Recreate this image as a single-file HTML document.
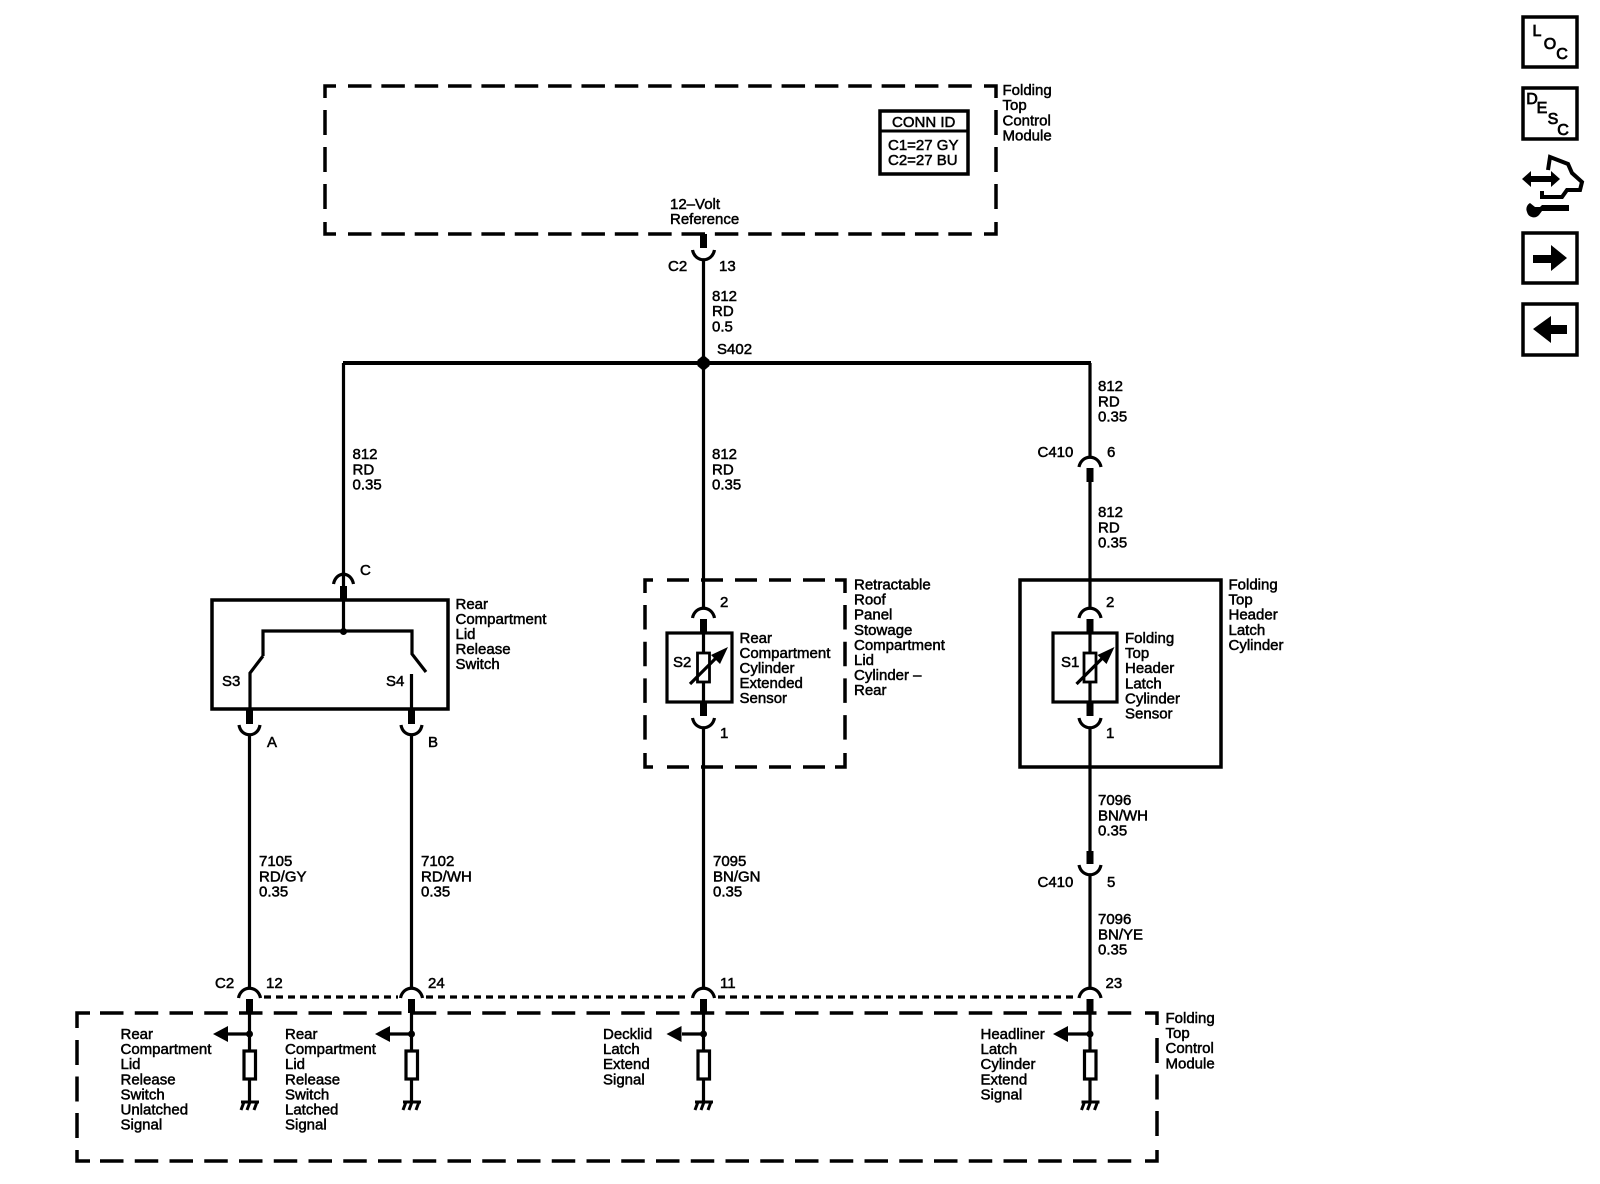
<!DOCTYPE html>
<html><head><meta charset="utf-8"><style>
html,body{margin:0;padding:0;background:#fff}
svg{display:block}
text{font-family:"Liberation Sans",sans-serif;font-size:15px;fill:#000;stroke:#000;stroke-width:.5}
.w{fill:none;stroke:#000;stroke-width:3.2}
.s{fill:none;stroke:#000;stroke-width:7}
.b{fill:none;stroke:#000;stroke-width:3.5}
.i text{font-size:16px;text-anchor:middle;stroke-width:.8}
</style></head><body>
<svg width="1600" height="1184" viewBox="0 0 1600 1184" xmlns="http://www.w3.org/2000/svg">
<rect width="1600" height="1184" fill="#fff"/>
<!-- top module -->
<path class="b" d="M325 98V86H336M984 86H996V98M325 222V234H336M984 234H996V222"/>
<path class="b" d="M348 86H975M348 234H975" stroke-dasharray="23.5 9.85"/>
<path class="b" d="M325 110V210M996 110V210" stroke-dasharray="25 12"/>
<rect class="b" x="880" y="111" width="88" height="63"/>
<path class="b" d="M880 131H968" style="stroke-width:3"/>
<text x="892" y="127">CONN ID</text>
<text x="888" y="150">C1=27 GY</text>
<text x="888" y="165">C2=27 BU</text>
<text x="1002.500" y="95">Folding<tspan x="1002.500" dy="15.200">Top</tspan><tspan x="1002.500" dy="15.200">Control</tspan><tspan x="1002.500" dy="15.200">Module</tspan></text>
<text x="670" y="209">12–Volt<tspan x="670" dy="15.200">Reference</tspan></text>
<!-- top connector and bus -->
<path class="s" d="M703.500 234V248"/>
<path class="w" d="M692.500 250C695 263 712 263 714.500 250M703.500 259V363"/>
<text x="668" y="271">C2</text><text x="719" y="271">13</text>
<text x="712" y="301">812<tspan x="712" dy="15.200">RD</tspan><tspan x="712" dy="15.200">0.5</tspan></text>
<text x="717" y="354">S402</text>
<path d="M343 363H1091" fill="none" stroke="#000" stroke-width="4"/>
<path d="M703.500 355L709.500 360V366L703.500 371L697.500 366V360Z" fill="#000"/>
<!-- left branch -->
<path class="w" d="M343.500 363V586M333.500 584C336 571 351 571 353.500 584"/>
<path class="s" d="M343.500 586V600"/>
<text x="352.500" y="459">812<tspan x="352.500" dy="15.300">RD</tspan><tspan x="352.500" dy="15.300">0.35</tspan></text>
<text x="360" y="575">C</text>
<rect class="b" x="212" y="600" width="236" height="109"/>
<path class="w" d="M343.500 600V631M263 656V631H412V654L426 672M263 656L250 673V711M411.500 674V711"/>
<circle cx="343.500" cy="631.500" r="3.500"/>
<text x="222" y="686">S3</text><text x="386" y="686">S4</text>
<text x="455.500" y="609">Rear<tspan x="455.500" dy="15">Compartment</tspan><tspan x="455.500" dy="15">Lid</tspan><tspan x="455.500" dy="15">Release</tspan><tspan x="455.500" dy="15">Switch</tspan></text>
<path class="s" d="M249.500 709V724M411.500 709V724"/>
<path class="w" d="M239 725C241 738 258 738 260 725M249.500 734V988M401 725C403 738 420 738 422 725M411.500 734V988"/>
<text x="267" y="747">A</text><text x="428" y="747">B</text>
<text x="259" y="866">7105<tspan x="259" dy="15.300">RD/GY</tspan><tspan x="259" dy="15.300">0.35</tspan></text>
<text x="421" y="866">7102<tspan x="421" dy="15.300">RD/WH</tspan><tspan x="421" dy="15.300">0.35</tspan></text>
<!-- middle branch -->
<path class="w" d="M703.500 363V608M692.500 618C695 605 712 605 714.500 618"/>
<text x="712" y="459">812<tspan x="712" dy="15.300">RD</tspan><tspan x="712" dy="15.300">0.35</tspan></text>
<path class="b" d="M645 593V580H653M835 580H845V593M645 753V767H653M835 767H845V753"/>
<path class="b" d="M667 580H825M667 767H825" stroke-dasharray="22 12"/>
<path class="b" d="M645 605V741M845 605V741" stroke-dasharray="24.500 12.200"/>
<path class="s" d="M703.500 619V633M703.500 702V716"/>
<rect x="667" y="633" width="65" height="69" fill="none" stroke="#000" stroke-width="3.200"/>
<path class="w" d="M703.500 633V653M703.500 682V702M692.500 718C695 731 712 731 714.500 718M703.500 728V988"/>
<rect x="697.500" y="653" width="12" height="29" fill="none" stroke="#000" stroke-width="2.800"/>
<path class="w" d="M690 684L720 654"/><path d="M728 647L711 655L720 664Z" fill="#000"/>
<text x="673" y="667">S2</text>
<text x="720" y="607">2</text><text x="720" y="738">1</text>
<text x="739.500" y="643">Rear<tspan x="739.500" dy="15">Compartment</tspan><tspan x="739.500" dy="15">Cylinder</tspan><tspan x="739.500" dy="15">Extended</tspan><tspan x="739.500" dy="15">Sensor</tspan></text>
<text x="854" y="589.500">Retractable<tspan x="854" dy="15.100">Roof</tspan><tspan x="854" dy="15.100">Panel</tspan><tspan x="854" dy="15.100">Stowage</tspan><tspan x="854" dy="15.100">Compartment</tspan><tspan x="854" dy="15.100">Lid</tspan><tspan x="854" dy="15.100">Cylinder –</tspan><tspan x="854" dy="15.100">Rear</tspan></text>
<text x="713" y="866">7095<tspan x="713" dy="15.300">BN/GN</tspan><tspan x="713" dy="15.300">0.35</tspan></text>
<!-- right branch -->
<path class="w" d="M1090 363V457M1079 467C1081.500 454 1098.500 454 1101 467"/>
<text x="1098" y="391">812<tspan x="1098" dy="15.300">RD</tspan><tspan x="1098" dy="15.300">0.35</tspan></text>
<text x="1037.500" y="457">C410</text><text x="1107" y="457">6</text>
<path class="s" d="M1090 468V482"/>
<path class="w" d="M1090 482V608M1079 618C1081.500 605 1098.500 605 1101 618"/>
<text x="1098" y="517">812<tspan x="1098" dy="15.300">RD</tspan><tspan x="1098" dy="15.300">0.35</tspan></text>
<rect class="b" x="1020" y="580" width="201" height="187"/>
<path class="s" d="M1090 619V633M1090 702V716"/>
<rect x="1053" y="633" width="64" height="69" fill="none" stroke="#000" stroke-width="3.200"/>
<path class="w" d="M1090 633V653M1090 682V702M1079 718C1081.500 731 1098.500 731 1101 718M1090 728V851"/>
<rect x="1084" y="653" width="12" height="29" fill="none" stroke="#000" stroke-width="2.800"/>
<path class="w" d="M1076.500 684L1106.500 654"/><path d="M1114.500 647L1097.500 655L1106.500 664Z" fill="#000"/>
<text x="1061" y="667">S1</text>
<text x="1106" y="607">2</text><text x="1106" y="738">1</text>
<text x="1125" y="643">Folding<tspan x="1125" dy="15.100">Top</tspan><tspan x="1125" dy="15.100">Header</tspan><tspan x="1125" dy="15.100">Latch</tspan><tspan x="1125" dy="15.100">Cylinder</tspan><tspan x="1125" dy="15.100">Sensor</tspan></text>
<text x="1228.500" y="589.500">Folding<tspan x="1228.500" dy="15.100">Top</tspan><tspan x="1228.500" dy="15.100">Header</tspan><tspan x="1228.500" dy="15.100">Latch</tspan><tspan x="1228.500" dy="15.100">Cylinder</tspan></text>
<text x="1098" y="805">7096<tspan x="1098" dy="15.300">BN/WH</tspan><tspan x="1098" dy="15.300">0.35</tspan></text>
<path class="s" d="M1090 851V864"/>
<path class="w" d="M1079 865C1081.500 878 1098.500 878 1101 865M1090 875V988"/>
<text x="1037.500" y="887">C410</text><text x="1107" y="887">5</text>
<text x="1098" y="924">7096<tspan x="1098" dy="15.300">BN/YE</tspan><tspan x="1098" dy="15.300">0.35</tspan></text>
<!-- bottom connectors -->
<text x="215" y="988">C2</text><text x="266" y="988">12</text><text x="428" y="988">24</text><text x="720" y="988">11</text><text x="1105.500" y="988">23</text>
<path class="w" d="M238.500 998C241 985 258 985 260.500 998M400.500 998C403 985 420 985 422.500 998M692.500 998C695 985 712 985 714.500 998M1079 998C1081.500 985 1098.500 985 1101 998"/>
<path class="w" d="M264 997H398M426 997H690M718 997H1076" stroke-dasharray="7 5"/>
<path class="s" d="M249.500 999V1013M411.500 999V1013M703.500 999V1013M1090 999V1013"/>
<!-- bottom module -->
<path class="b" d="M77 1028V1013H90M1145 1013H1157V1025M77 1150V1161H90M1145 1161H1157V1150"/>
<path class="b" d="M100 1013H1135M100 1161H1135" stroke-dasharray="23.500 11.250"/>
<path class="b" d="M77 1040V1138M1157 1038V1138" stroke-dasharray="25 11.500"/>
<!-- pull-downs -->
<g fill="#000">
<path class="w" d="M249.500 1013V1051M249.500 1079V1102M228 1034H249.500"/>
<circle cx="249.500" cy="1034" r="3.500"/><path d="M213 1034L228 1026V1042Z"/>
<path class="w" d="M411.500 1013V1051M411.500 1079V1102M390 1034H411.500"/>
<circle cx="411.500" cy="1034" r="3.500"/><path d="M375 1034L390 1026V1042Z"/>
<path class="w" d="M703.500 1013V1051M703.500 1079V1102M682 1034H703.500"/>
<circle cx="703.500" cy="1034" r="3.500"/><path d="M666.500 1034L681.500 1026V1042Z"/>
<path class="w" d="M1090 1013V1051M1090 1079V1102M1068 1034H1090"/>
<circle cx="1090" cy="1034" r="3.500"/><path d="M1053 1034L1068 1026V1042Z"/>
</g>
<g fill="#fff" stroke="#000" stroke-width="3.200">
<rect x="244" y="1051" width="11.500" height="28"/>
<rect x="406" y="1051" width="11.500" height="28"/>
<rect x="698" y="1051" width="11.500" height="28"/>
<rect x="1084.500" y="1051" width="11.500" height="28"/>
</g>
<path fill="none" stroke="#000" stroke-width="3" d="M241 1102H259M244 1102L241 1110M250 1102L247 1110M257 1102L254 1110M403 1102H421M406 1102L403 1110M412 1102L409 1110M419 1102L416 1110M695 1102H713M698 1102L695 1110M704 1102L701 1110M711 1102L708 1110M1081.500 1102H1099.500M1084.500 1102L1081.500 1110M1090.500 1102L1087.500 1110M1097.500 1102L1094.500 1110"/>
<text x="120.500" y="1039">Rear<tspan x="120.500" dy="15.100">Compartment</tspan><tspan x="120.500" dy="15.100">Lid</tspan><tspan x="120.500" dy="15.100">Release</tspan><tspan x="120.500" dy="15.100">Switch</tspan><tspan x="120.500" dy="15.100">Unlatched</tspan><tspan x="120.500" dy="15.100">Signal</tspan></text>
<text x="285" y="1039">Rear<tspan x="285" dy="15.100">Compartment</tspan><tspan x="285" dy="15.100">Lid</tspan><tspan x="285" dy="15.100">Release</tspan><tspan x="285" dy="15.100">Switch</tspan><tspan x="285" dy="15.100">Latched</tspan><tspan x="285" dy="15.100">Signal</tspan></text>
<text x="603" y="1039">Decklid<tspan x="603" dy="15.100">Latch</tspan><tspan x="603" dy="15.100">Extend</tspan><tspan x="603" dy="15.100">Signal</tspan></text>
<text x="980.500" y="1039">Headliner<tspan x="980.500" dy="15.100">Latch</tspan><tspan x="980.500" dy="15.100">Cylinder</tspan><tspan x="980.500" dy="15.100">Extend</tspan><tspan x="980.500" dy="15.100">Signal</tspan></text>
<text x="1165.500" y="1023">Folding<tspan x="1165.500" dy="15.100">Top</tspan><tspan x="1165.500" dy="15.100">Control</tspan><tspan x="1165.500" dy="15.100">Module</tspan></text>
<!-- side icons -->
<g class="i">
<rect class="b" x="1523" y="17" width="54" height="50"/>
<text x="1537" y="36">L</text><text x="1550" y="49">O</text><text x="1562" y="59">C</text>
<rect class="b" x="1523" y="88" width="54" height="51"/>
<text x="1532" y="104">D</text><text x="1542" y="113">E</text><text x="1553" y="124">S</text><text x="1563" y="135">C</text>
<path fill="none" stroke="#000" stroke-width="4" d="M1548 170L1550 157L1568 164L1572 173L1582 182L1580 190L1567 190L1562 197L1542 197L1542 191"/>
<path d="M1522 179L1531 171V176H1551V171L1560 179L1551 187V182H1531V187Z" fill="#000"/>
<path d="M1530 203L1535 207H1540L1542 205H1569V211H1542L1539 215A7 7 0 0 1 1527 212A7 7 0 0 1 1530 203Z" fill="#000"/>
<rect class="b" x="1523" y="233" width="54" height="50"/>
<path d="M1533 255H1551V245L1567 258L1551 271V263H1533Z" fill="#000"/>
<rect class="b" x="1523" y="304" width="54" height="51"/>
<path d="M1533 329L1551 316V325H1567V334H1551V343Z" fill="#000"/>
</g>
</svg>
</body></html>
